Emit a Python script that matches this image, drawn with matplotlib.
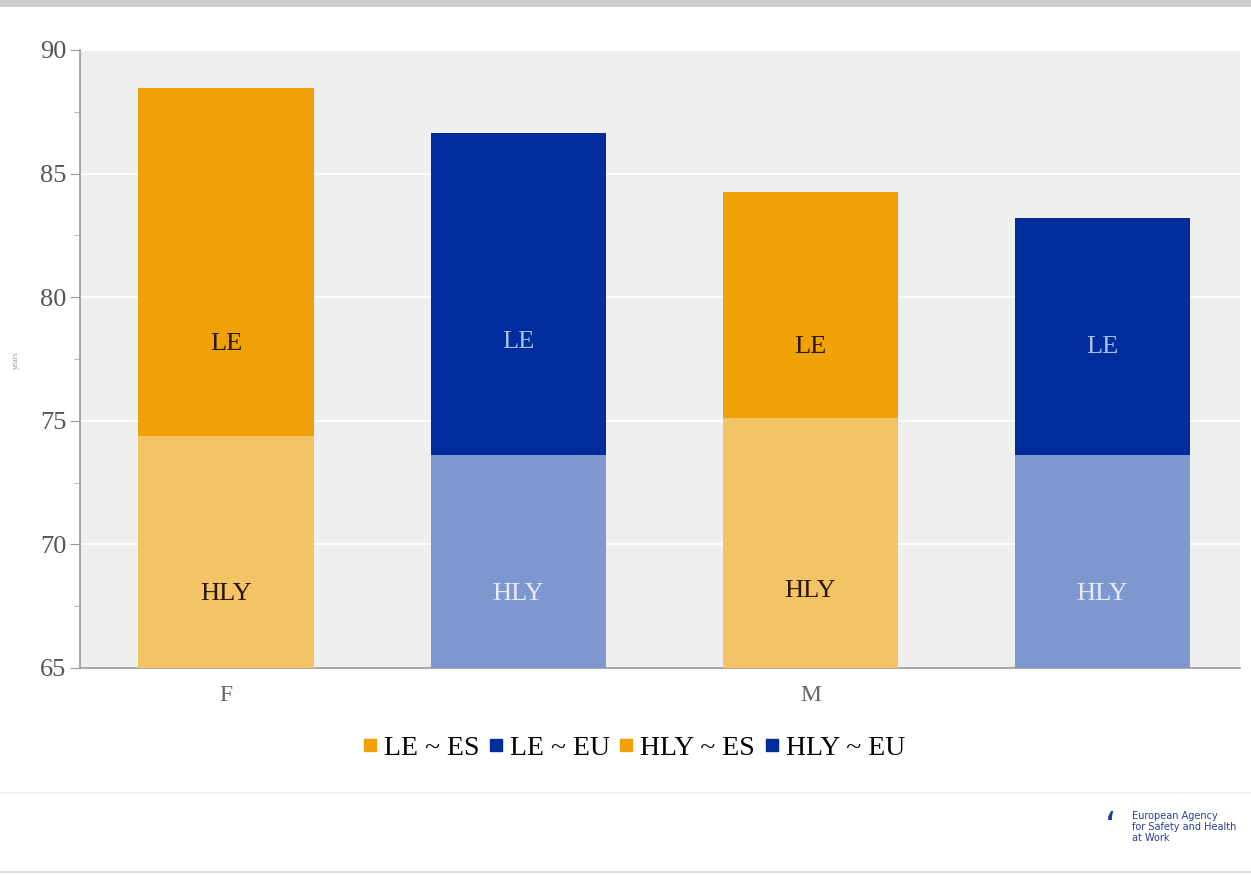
import numpy as np
import matplotlib.pyplot as plt
from matplotlib.lines import Line2D

# data (years)
groups = ['F', '', 'M', '']
le_vals = [88.45, 86.65, 84.25, 83.2]
hly_vals = [74.4, 73.6, 75.1, 73.6]
le_label_y = [78.1, 78.2, 78.0, 78.0]
hly_label_y = [68.0, 68.0, 68.1, 68.0]
legend_names = ['LE ~ ES', 'LE ~ EU', 'HLY ~ ES', 'HLY ~ EU']

ORANGE = '#efa106'
ORANGE_L = '#f3c466'
BLUE = '#012c9c'
BLUE_L = '#7f97cf'
le_colors = [ORANGE, BLUE, ORANGE, BLUE]
hly_colors = [ORANGE_L, BLUE_L, ORANGE_L, BLUE_L]
le_txt = ['#2b1600', '#a9bdf2', '#2b1600', '#a9bdf2']
hly_txt = ['#2b1600', '#e4ebff', '#2b1600', '#e4ebff']

plt.rcParams['font.family'] = ['Liberation Serif', 'DejaVu Serif']

fig = plt.figure(figsize=(12.51, 8.75), dpi=100)
ax = fig.add_axes([0.064, 0.2366, 0.927, 0.7063])
ax.set_facecolor('#efefef')

x = np.arange(len(le_vals))
base = 65
ax.bar(x, np.array(le_vals) - base, bottom=base, width=0.6, color=le_colors, zorder=3)
ax.bar(x, np.array(hly_vals) - base, bottom=base, width=0.6, color=hly_colors, zorder=4)

for i in range(len(x)):
    ax.text(x[i], le_label_y[i], 'LE', ha='center', va='center', fontsize=19,
            color=le_txt[i], zorder=5)
    ax.text(x[i], hly_label_y[i], 'HLY', ha='center', va='center', fontsize=19,
            color=hly_txt[i], zorder=5)

ax.set_xlim(-0.5, 3.47)
ax.set_ylim(65, 90)
ax.set_yticks([65, 70, 75, 80, 85, 90])
ax.set_yticks(np.arange(67.5, 90, 5), minor=True)
ax.yaxis.grid(True, color='white', linewidth=1.5, zorder=1)
ax.set_axisbelow(True)
ax.set_xticks(x)
ax.set_xticklabels(groups)
ax.tick_params(axis='y', which='major', length=7, color='#999999', labelsize=19,
               labelcolor='#555555', pad=3)
ax.tick_params(axis='y', which='minor', length=4, color='#aaaaaa')
ax.tick_params(axis='x', length=0, labelsize=17, labelcolor='#666666', pad=12)
for s in ['top', 'right']:
    ax.spines[s].set_visible(False)
ax.spines['left'].set_color('#999999')
ax.spines['bottom'].set_color('#999999')
ax.spines['left'].set_linewidth(1.2)
ax.spines['bottom'].set_linewidth(1.2)

fig.text(0.013, 0.588, 'years', rotation=90, fontsize=6, color='#999999',
         ha='center', va='center')

handles = [Line2D([], [], marker='s', linestyle='none', markersize=8,
                  color=c) for c in [ORANGE, BLUE, ORANGE, BLUE]]
fig.legend(handles, legend_names, loc='center', bbox_to_anchor=(0.505, 0.145),
           ncol=4, frameon=False, fontsize=20, handletextpad=0.1,
           columnspacing=0.2, handlelength=0.8)

# page decoration: top bar, separator, bottom line
fig.add_artist(Line2D([0, 1], [0.997, 0.997], color='#cccccc', linewidth=5))
fig.add_artist(Line2D([0, 1], [0.094, 0.094], color='#f2f2f2', linewidth=1.5))
fig.add_artist(Line2D([0, 1], [0.003, 0.003], color='#dddddd', linewidth=1.5))

# agency logo text
fig.text(0.905, 0.055, 'European Agency\nfor Safety and Health\nat Work', fontsize=7,
         color='#2b3f8f', family=['Liberation Sans Narrow', 'DejaVu Sans'],
         va='center', ha='left', linespacing=1.1)
fig.text(0.888, 0.055, '\u2018', fontsize=26, color='#1b3a9a', ha='center', va='center',
         family=['DejaVu Sans'])

fig.savefig('out.png', dpi=100, facecolor='white')
